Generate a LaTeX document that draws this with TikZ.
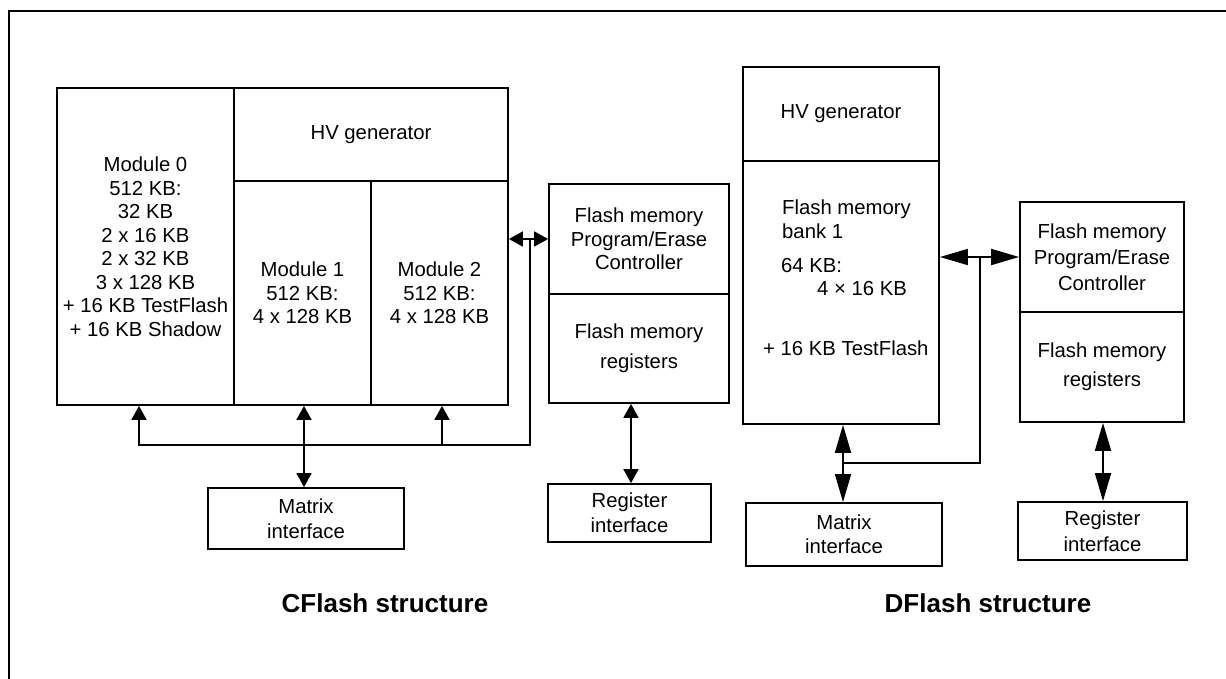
\documentclass[tikz,border=0pt]{standalone}
\usepackage{fontspec}
\setmainfont{Liberation Sans}
\usetikzlibrary{arrows.meta}
\tikzset{
  blk/.style={draw, line width=1.8pt, inner sep=0pt, align=center,
    font=\fontsize{20.3}{23.5}\selectfont},
  lbl/.style={inner sep=0pt, anchor=west, font=\fontsize{20.3}{24}\selectfont},
  ttl/.style={inner sep=0pt, font=\fontsize{26}{30}\selectfont\bfseries},
  wire/.style={line width=1.8pt},
  sm/.tip={Triangle[length=14pt,width=15pt]},
  bg/.tip={Triangle[length=28pt,width=16pt]},
}
\begin{document}
\begin{tikzpicture}[x=1pt,y=-1pt]
\useasboundingbox (0,0) rectangle (1226,679);
\draw[line width=2pt] (8.5,679) -- (8.5,11) -- (1226,11);

% ---------- CFlash ----------
\node[blk, minimum width=177pt, minimum height=317pt] (m0) at (145.5,246.5)
  {Module 0\\512 KB:\\32 KB\\2 x 16 KB\\2 x 32 KB\\3 x 128 KB\\+ 16 KB TestFlash\\+ 16 KB Shadow};
\node[blk, minimum width=274pt, minimum height=93pt] (hv1) at (371,134.5) {HV generator};
\node[blk, minimum width=137pt, minimum height=224pt] (m1) at (302.5,293) {Module 1\\512 KB:\\4 x 128 KB};
\node[blk, minimum width=137pt, minimum height=224pt] (m2) at (439.5,293) {Module 2\\512 KB:\\4 x 128 KB};
\node[blk, minimum width=180pt, minimum height=110pt] (ctl1) at (639,239)
  {Flash memory\\Program/Erase\\Controller};
\node[blk, minimum width=180pt, minimum height=109pt,
  font=\fontsize{20.3}{30}\selectfont] (reg1) at (639,348.5) {Flash memory\\registers};
\node[blk, minimum width=196pt, minimum height=61pt, font=\fontsize{20.3}{25}\selectfont]
  (mi1) at (306,518.5) {Matrix\\interface};
\node[blk, minimum width=163pt, minimum height=58pt, font=\fontsize{20.3}{25}\selectfont]
  (ri1) at (629.5,513) {Register\\interface};

\coordinate (j1) at (530,239);
\coordinate (x0) at (139,445);
\coordinate (x1) at (304,445);
\coordinate (x2) at (442,445);
\coordinate (r1) at (631,445);

\draw[wire, sm-sm] (ctl1.west -| m2.east) -- (ctl1.west);
\draw[wire, -sm] (j1) |- (x0) -- (x0 |- m0.south);
\draw[wire, -sm] (x2) -- (x2 |- m2.south);
\draw[wire, sm-sm] (x1 |- m1.south) -- (x1 |- mi1.north);
\draw[wire, sm-sm] (r1 |- reg1.south) -- (r1 |- ri1.north);

\node[ttl] (t1) at (385,603) {CFlash structure};

% ---------- DFlash ----------
\node[blk, minimum width=196pt, minimum height=94pt] (hv2) at (841,114) {HV generator};
\node[blk, minimum width=196pt, minimum height=263pt] (bank) at (841,292.5) {};
\node[lbl, align=left] (bt1) at (782,219.5) {Flash memory\\bank 1};
\node[lbl] (bt2) at (781,266) {64 KB:};
\node[lbl] (bt3) at (817,289) {4 × 16 KB};
\node[lbl] (bt4) at (763,348) {+ 16 KB TestFlash};
\node[blk, minimum width=164pt, minimum height=110pt, font=\fontsize{20.3}{26}\selectfont]
  (ctl2) at (1102,257) {Flash memory\\Program/Erase\\Controller};
\node[blk, minimum width=164pt, minimum height=110pt, font=\fontsize{20.3}{29}\selectfont]
  (reg2) at (1102,367) {Flash memory\\registers};
\node[blk, minimum width=196pt, minimum height=63pt, font=\fontsize{20.3}{24}\selectfont]
  (mi2) at (844,534.5) {Matrix\\interface};
\node[blk, minimum width=169pt, minimum height=58pt, font=\fontsize{20.3}{26}\selectfont]
  (ri2) at (1102.5,531) {Register\\interface};

\coordinate (j2) at (980,257);
\coordinate (x3) at (843,463);
\coordinate (r2) at (1103,463);

\draw[wire, bg-bg] (ctl2.west -| bank.east) -- (ctl2.west);
\draw[wire] (j2) |- (x3);
\draw[wire, bg-bg] (x3 |- bank.south) -- (x3 |- mi2.north);
\draw[wire, bg-bg] (r2 |- reg2.south) -- (r2 |- ri2.north);

\node[ttl] (t2) at (988,603) {DFlash structure};
\end{tikzpicture}
\end{document}
